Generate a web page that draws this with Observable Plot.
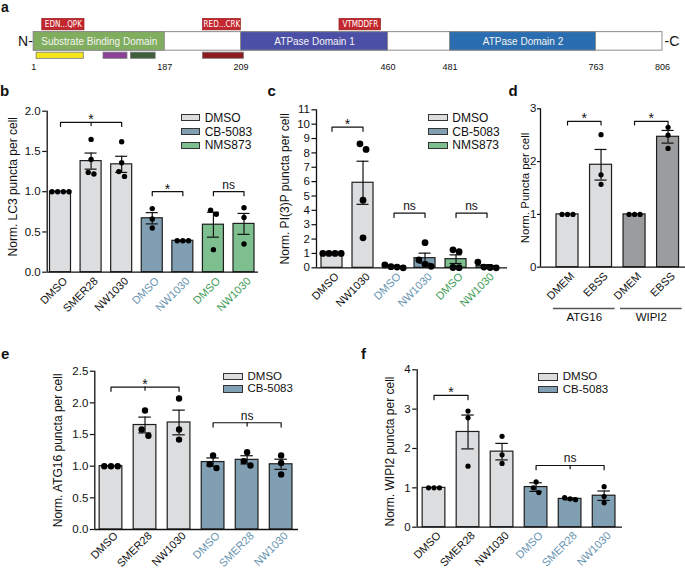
<!DOCTYPE html>
<html><head><meta charset="utf-8">
<script src="https://cdn.jsdelivr.net/npm/d3@7"></script>
<script src="https://cdn.jsdelivr.net/npm/@observablehq/plot@0.6"></script>
<style>
html,body{margin:0;padding:0;background:#fff;}
#fig{position:relative;width:685px;height:570px;overflow:hidden;background:#fff;font-family:"Liberation Sans",Arial,Helvetica,sans-serif;color:#111;}
.letter{position:absolute;font-weight:bold;font-size:15px;line-height:11px;}
.legtxt{position:absolute;font-size:12px;line-height:12px;white-space:nowrap;}
</style></head>
<body><div id="fig"></div>
<script>
// ---------------- DATA ----------------
// Panel a: protein schematic (residue numbers)
const residueTicks = [1, 187, 209, 460, 481, 763, 806];
const domainNames = ["Substrate Binding Domain", "ATPase Domain 1", "ATPase Domain 2"];
const domainStart = [1, 209, 481];
const domainEnd = [187, 460, 763];
const motifLabels = ["EDN...QPK", "RED...CRK", "VTMDDFR"];
const motifStart = [13, 198, 377];
const motifEnd = [73, 209, 448];
const featureStart = [5, 100, 139, 198];
const featureEnd = [72, 134, 174, 214];

// Panel b: LC3
const bCats = ["DMSO", "SMER28", "NW1030", "DMSO", "NW1030", "DMSO", "NW1030"];
const bGroups = ["DMSO", "DMSO", "DMSO", "CB-5083", "CB-5083", "NMS873", "NMS873"];
const bMean = [1.0, 1.38, 1.34, 0.67, 0.39, 0.59, 0.60];
const bSem = [0, 0.10, 0.10, 0.07, 0.005, 0.155, 0.13];
const bPoints = [[1, 1, 1, 1], [1.65, 1.40, 1.22, 1.24], [1.62, 1.36, 1.19, 1.25], [0.79, 0.66, 0.55], [0.39, 0.39, 0.39], [0.77, 0.72, 0.28], [0.80, 0.68, 0.35]];
const bBrackets = [{from: 0, to: 2, y: 1.86, label: "*", mid: [1]}, {from: 3, to: 4, y: 1.0, label: "*"}, {from: 5, to: 6, y: 1.0, label: "ns"}];
const bLegend = ["DMSO", "CB-5083", "NMS873"];

// Panel c: PI(3)P
const cCats = ["DMSO", "NW1030", "DMSO", "NW1030", "DMSO", "NW1030"];
const cGroups = ["DMSO", "DMSO", "CB-5083", "CB-5083", "NMS873", "NMS873"];
const cMean = [1.0, 5.92, 0.08, 0.67, 0.60, 0.12];
const cSem = [0, 1.5, 0.05, 0.35, 0.30, 0.10];
const cPoints = [[1, 1, 1, 1], [8.63, 8.24, 4.71, 2.09], [0, 0.05, 0.08, 0.2], [1.75, 0.55, 0.25, 0.1], [1.25, 1.12, 0.02, 0.01], [0, 0.02, 0.05, 0.4]];
const cBrackets = [{from: 0, to: 1, y: 9.8, label: "*"}, {from: 2, to: 3, y: 3.8, label: "ns"}, {from: 4, to: 5, y: 3.8, label: "ns"}];
const cLegend = ["DMSO", "CB-5083", "NMS873"];

// Panel d: starvation
const dCats = ["DMEM", "EBSS", "DMEM", "EBSS"];
const dGroups = ["ATG16", "ATG16", "WIPI2", "WIPI2"];
const dMean = [1.0, 1.94, 1.0, 2.47];
const dSem = [0, 0.29, 0, 0.12];
const dPoints = [[1, 1, 1], [2.51, 1.75, 1.57], [1, 1, 1], [2.65, 2.5, 2.25]];
const dBrackets = [{from: 0, to: 1, y: 2.76, label: "*"}, {from: 2, to: 3, y: 2.76, label: "*"}];
const dGroupNames = ["ATG16", "WIPI2"];
const dGroupFrom = [0, 2];
const dGroupTo = [1, 3];

// Panel e: ATG16
const eCats = ["DMSO", "SMER28", "NW1030", "DMSO", "SMER28", "NW1030"];
const eGroups = ["DMSO", "DMSO", "DMSO", "CB-5083", "CB-5083", "CB-5083"];
const eMean = [1.0, 1.65, 1.69, 1.065, 1.10, 1.03];
const eSem = [0, 0.125, 0.195, 0.065, 0.065, 0.08];
const ePoints = [[1, 1, 1], [1.88, 1.58, 1.48], [2.07, 1.58, 1.42], [1.17, 1.03, 0.97], [1.22, 1.08, 1.01], [1.17, 1.05, 0.87]];
const eBrackets = [{from: 0, to: 2, y: 2.25, label: "*", mid: [1]}, {from: 3, to: 5, y: 1.686, label: "ns", mid: [4]}];
const eLegend = ["DMSO", "CB-5083"];

// Panel f: WIPI2
const fCats = ["DMSO", "SMER28", "NW1030", "DMSO", "SMER28", "NW1030"];
const fGroups = ["DMSO", "DMSO", "DMSO", "CB-5083", "CB-5083", "CB-5083"];
const fMean = [1.0, 2.42, 1.92, 1.02, 0.72, 0.80];
const fSem = [0, 0.43, 0.21, 0.11, 0.025, 0.12];
const fPoints = [[1, 1, 1], [2.95, 2.78, 1.55], [2.31, 1.84, 1.62], [1.15, 1.0, 0.88], [0.75, 0.70, 0.72], [1.03, 0.78, 0.62]];
const fBrackets = [{from: 0, to: 1, y: 3.35, label: "*"}, {from: 3, to: 5, y: 1.568, label: "ns", mid: [4]}];
const fLegend = ["DMSO", "CB-5083"];

// ---------------- STYLE / LAYOUT ----------------
const FONT = '"Liberation Sans", Arial, Helvetica, sans-serif';
const NARROW = '"Liberation Sans Narrow", "Arial Narrow", "DejaVu Sans Condensed", "Liberation Sans", sans-serif';
const fillColor = {"DMSO": "#dcdddf", "CB-5083": "#809fb3", "NMS873": "#7dbf8e", "ATG16": "#dcdddf", "WIPI2": "#9b9c9e"};
const labelColor = {"DMSO": "#111", "CB-5083": "#6793b0", "NMS873": "#3f9c58", "ATG16": "#111", "WIPI2": "#111"};
const domainColor = ["#80ad5e", "#4c4fa6", "#2a6db0"];
const featureColor = ["#f5e71a", "#8b3f96", "#3f5e3a", "#8c1c20"];
// drawn (not-to-scale) length of the schematic at each residue break
const schematicStops = [0, 131, 207.2, 354.3, 416.2, 562.2, 628.7];
const fig = document.getElementById("fig");

function place(el, left, top) {
  el.style.position = "absolute";
  el.style.left = left + "px";
  el.style.top = top + "px";
  el.style.overflow = "visible";
  fig.appendChild(el);
}
function letter(t, x, baseline, fs) {
  const el = document.createElement("div");
  el.className = "letter"; el.textContent = t;
  const size = fs || 15;
  el.style.fontSize = size + "px";
  el.style.left = x + "px"; el.style.top = (baseline - (size * 0.905 - (size * 1.117 - 11) / 2)) + "px";
  fig.appendChild(el);
}
function legend(names, L) {
  names.forEach((nm, k) => {
    const cy = L.y0 + k * L.dy;
    const sw = document.createElement("div");
    sw.style.cssText = `position:absolute;left:${L.x}px;top:${cy - L.h / 2}px;width:${L.w}px;height:${L.h}px;background:${fillColor[nm]};border:1px solid #333;box-sizing:border-box;`;
    fig.appendChild(sw);
    const tx = document.createElement("div");
    tx.className = "legtxt"; tx.textContent = nm;
    tx.style.fontSize = L.fs + "px"; tx.style.lineHeight = L.fs + "px";
    tx.style.left = (L.x + L.w + 4.5) + "px"; tx.style.top = (cy - L.fs * 0.49) + "px";
    fig.appendChild(tx);
  });
}

// ---------------- PANEL A ----------------
(function () {
  const toU = d3.scaleLinear().domain(residueTicks).range(schematicStops);
  const track = {motif: [0, 1], domain: [1.15, 2.75], feature: [2.92, 3.45], label: 4.2};
  const mid = (track.domain[0] + track.domain[1]) / 2;
  const domains = domainNames.map((name, k) => ({name, k, start: domainStart[k], end: domainEnd[k]}));
  const motifs = motifLabels.map((label, k) => ({label, start: motifStart[k], end: motifEnd[k]}));
  const features = featureStart.map((s, k) => ({k, start: s, end: featureEnd[k]}));
  const whole = [{start: residueTicks[0], end: residueTicks[residueTicks.length - 1]}];
  const svg = Plot.plot({
    width: 685, height: 75, margin: 0,
    style: {fontFamily: FONT, fontSize: "10px", color: "#111", overflow: "visible", background: "transparent"},
    x: {type: "linear", domain: [schematicStops[0], schematicStops[schematicStops.length - 1]], range: [33.3, 662], axis: null},
    y: {domain: [0, 3.45], range: [18.3, 58.3], axis: null},
    color: {type: "identity"},
    marks: [
      Plot.rect(whole, {x1: d => toU(d.start), x2: d => toU(d.end), y1: track.domain[0], y2: track.domain[1], fill: "white", stroke: "#8c8c8c", strokeWidth: 1}),
      Plot.rect(domains, {x1: d => toU(d.start), x2: d => toU(d.end), y1: track.domain[0], y2: track.domain[1], fill: d => domainColor[d.k], stroke: "#8c8c8c", strokeWidth: 1}),
      Plot.text(domains, {x: d => toU((d.start + d.end) / 2), y: mid, text: "name", fill: "#f4f4f4", fontSize: 10}),
      Plot.rect(motifs, {x1: d => toU(d.start), x2: d => toU(d.end), y1: track.motif[0], y2: track.motif[1], fill: "#c4262d", stroke: "#8a1a1a", strokeWidth: 0.6}),
      Plot.text(motifs, {x: d => (toU(d.start) + toU(d.end)) / 2, y: (track.motif[0] + track.motif[1]) / 2, text: "label", fill: "white", fontSize: 8, fontFamily: NARROW}),
      Plot.rect(features, {x1: d => toU(d.start), x2: d => toU(d.end), y1: track.feature[0], y2: track.feature[1], fill: d => featureColor[d.k], stroke: "#777", strokeWidth: 0.8}),
      Plot.text(residueTicks, {x: d => toU(d), y: track.label, text: d => String(d), fontSize: 9}),
      Plot.text(["N-"], {x: toU(residueTicks[0]), y: mid, text: d => d, textAnchor: "end", dx: -1, fontSize: 14}),
      Plot.text(["-C"], {x: toU(residueTicks[residueTicks.length - 1]), y: mid, text: d => d, textAnchor: "start", dx: 2, fontSize: 14})
    ]
  });
  place(svg, 0, 0);
})();

// ---------------- BAR PANELS ----------------
function barPanel(d, L) {
  const n = d.cats.length;
  const rows = d.cats.map((c, i) => ({i, cat: c, group: d.groups[i], mean: d.mean[i], sem: d.sem[i]}));
  const err = rows.filter(r => r.sem > 0);
  const xDom = [L.x0, n - 1 + L.x1];
  const frameW = L.width - L.ml - L.mr, frameH = L.height - L.mt - L.mb;
  const pxX = frameW / (xDom[1] - xDom[0]);
  const pxY = frameH / (d.yDomain[1] - d.yDomain[0]);
  const hw = L.barPx / 2 / pxX, cap = L.capPx / 2 / pxX, drop = L.dropPx / pxY;
  const pts = [];
  d.points.forEach((arr, i) => {
    const s = [...arr].sort((a, b) => b - a);
    const cl = [[s[0]]];
    for (let k = 1; k < s.length; k++) {
      const last = cl[cl.length - 1];
      if ((last[last.length - 1] - s[k]) * pxY < L.r * 2) last.push(s[k]); else cl.push([s[k]]);
    }
    cl.forEach(c => c.forEach((v, j) => pts.push({i, v, off: (j - (c.length - 1) / 2) * L.r * L.spread / pxX})));
  });
  const br = d.brackets;
  const brLines = br.flatMap((b, k) => [{k, x: b.from, y: b.y - drop}, {k, x: b.from, y: b.y}, {k, x: b.to, y: b.y}, {k, x: b.to, y: b.y - drop}]);
  const mids = br.flatMap(b => (b.mid || []).map(m => ({x: m, y: b.y})));
  const marks = [
    Plot.rect(rows, {x1: r => r.i - hw, x2: r => r.i + hw, y1: d.yDomain[0], y2: "mean", fill: r => fillColor[r.group], stroke: "#1e1e1e", strokeWidth: 1.2}),
    Plot.ruleX(err, {x: "i", y1: r => r.mean - r.sem, y2: r => r.mean + r.sem, stroke: "#111", strokeWidth: 1.2}),
    Plot.ruleY(err, {y: r => r.mean + r.sem, x1: r => r.i - cap, x2: r => r.i + cap, stroke: "#111", strokeWidth: 1.2}),
    Plot.ruleY(err, {y: r => r.mean - r.sem, x1: r => r.i - cap, x2: r => r.i + cap, stroke: "#111", strokeWidth: 1.2}),
    Plot.dot(pts, {x: p => p.i + p.off, y: "v", r: L.r, fill: "#000", stroke: "none"}),
    Plot.ruleX([xDom[0]], {stroke: "#111", strokeWidth: 1.3}),
    Plot.ruleY([d.yDomain[0]], {stroke: "#111", strokeWidth: 1.3}),
    Plot.axisY({ticks: d.yTicks, tickFormat: d.tickFormat, tickSize: L.tickSize || 4.5, tickPadding: L.tickPad ?? 2, fontSize: 11.5, strokeWidth: 1.2, label: null}),
    Plot.text(rows, {x: "i", frameAnchor: "bottom", text: "cat", rotate: -45, textAnchor: "end", lineAnchor: "top", dx: 2, dy: L.lblDy ?? 4, fill: r => labelColor[r.group], fontSize: 11}),
    Plot.line(brLines, {x: "x", y: "y", z: "k", stroke: "#111", strokeWidth: 1.2}),
    Plot.ruleX(mids, {x: "x", y1: "y", y2: m => m.y - drop, stroke: "#111", strokeWidth: 1.2}),
    Plot.text(br.filter(b => b.label === "*"), {x: b => (b.from + b.to) / 2, y: "y", text: "label", fontSize: 14, lineAnchor: "middle", dy: -2.5}),
    Plot.text(br.filter(b => b.label !== "*"), {x: b => (b.from + b.to) / 2, y: "y", text: "label", fontSize: 12, lineAnchor: "middle", dy: -7}),
    Plot.text([d.yLabel], {frameAnchor: "left", text: t => t, rotate: -90, textAnchor: "middle", lineAnchor: "middle", dx: L.ylabDx, dy: L.ylabDy || 0, fontSize: L.ylabFs || 12})
  ];
  if (d.groupNames) {
    const gr = d.groupNames.map((g, k) => ({g, a: d.groupFrom[k], b: d.groupTo[k]}));
    marks.push(Plot.ruleY(gr, {y: d.yDomain[0], x1: g => g.a - 0.42, x2: g => g.b + 0.42, dy: 41.3, stroke: "#555", strokeWidth: 1.3}));
    marks.push(Plot.text(gr, {x: g => (g.a + g.b) / 2, frameAnchor: "bottom", text: "g", lineAnchor: "middle", dy: 50.5, fontSize: 11.5}));
  }
  const svg = Plot.plot({
    width: L.width, height: L.height,
    marginLeft: L.ml, marginRight: L.mr, marginTop: L.mt, marginBottom: L.mb,
    style: {fontFamily: FONT, fontSize: "11.5px", color: "#111", overflow: "visible", background: "transparent"},
    x: {domain: xDom, axis: null},
    y: {domain: d.yDomain, axis: null},
    color: {type: "identity"},
    marks
  });
  place(svg, L.left, L.top);
}

const f1 = d3.format(".1f");
barPanel({cats: bCats, groups: bGroups, mean: bMean, sem: bSem, points: bPoints, brackets: bBrackets,
  yDomain: [0, 2], yTicks: [0, 0.5, 1, 1.5, 2], tickFormat: f1, yLabel: "Norm. LC3 puncta per cell"},
  {left: 0, top: 80, width: 262, height: 240, ml: 46.7, mr: 4, mt: 30.7, mb: 48.3, x0: -0.435, x1: 0.474,
   barPx: 21, capPx: 12, dropPx: 4, r: 2.7, spread: 2.1, ylabDx: -34, ylabDy: -5});

barPanel({cats: cCats, groups: cGroups, mean: cMean, sem: cSem, points: cPoints, brackets: cBrackets,
  yDomain: [0, 11], yTicks: d3.range(0, 12), tickFormat: d3.format("d"), yLabel: "Norm. PI(3)P puncta per cell"},
  {left: 262, top: 80, width: 245, height: 240, ml: 54, mr: 0, mt: 29.3, mb: 52.7, x0: -0.5, x1: 0.66,
   barPx: 21, capPx: 12, dropPx: 4.3, r: 3.4, spread: 1.8, ylabDx: -31.5});

barPanel({cats: dCats, groups: dGroups, mean: dMean, sem: dSem, points: dPoints, brackets: dBrackets,
  yDomain: [0, 3], yTicks: [0, 1, 2, 3], tickFormat: d3.format("d"), yLabel: "Norm. Puncta per cell",
  groupNames: dGroupNames, groupFrom: dGroupFrom, groupTo: dGroupTo},
  {left: 505, top: 80, width: 180, height: 250, ml: 35, mr: 0, mt: 28.3, mb: 63.3, x0: -0.806, x1: 0.52,
   barPx: 22, capPx: 12, dropPx: 3.5, r: 2.6, spread: 2.1, ylabDx: -15, ylabFs: 11.5, tickSize: 3, tickPad: 1});

barPanel({cats: eCats, groups: eGroups, mean: eMean, sem: eSem, points: ePoints, brackets: eBrackets,
  yDomain: [0, 2.5], yTicks: [0, 0.5, 1, 1.5, 2, 2.5], tickFormat: f1, yLabel: "Norm. ATG16 puncta per cell"},
  {left: 0, top: 340, width: 300, height: 230, ml: 94.3, mr: 2, mt: 30.7, mb: 41, x0: -0.476, x1: 0.51,
   barPx: 22.7, capPx: 12.5, dropPx: 4.3, r: 3.2, spread: 2.1, ylabDx: -36.3, lblDy: 1.5});

barPanel({cats: fCats, groups: fGroups, mean: fMean, sem: fSem, points: fPoints, brackets: fBrackets,
  yDomain: [0, 4], yTicks: [0, 1, 2, 3, 4], tickFormat: d3.format("d"), yLabel: "Norm. WIPI2 puncta per cell"},
  {left: 320, top: 340, width: 310, height: 230, ml: 96.7, mr: 8, mt: 29.3, mb: 43.3, x0: -0.494, x1: 0.54,
   barPx: 22.7, capPx: 12.5, dropPx: 4.3, r: 2.6, spread: 2.1, ylabDx: -26.7, ylabDy: 3, lblDy: 3.5});

// legends
legend(bLegend, {x: 180.7, y0: 117.5, dy: 13.9, w: 19.5, h: 7.6, fs: 12});
legend(cLegend, {x: 428.3, y0: 117.5, dy: 13.9, w: 19.5, h: 7.6, fs: 12});
legend(eLegend, {x: 223, y0: 376.3, dy: 12.8, w: 20, h: 7.4, fs: 11.5});
legend(fLegend, {x: 538.3, y0: 377, dy: 12.8, w: 20, h: 7.4, fs: 11.5});

// panel letters
letter("a", 1, 12.8, 14);
letter("b", 0, 96);
letter("c", 267.5, 96);
letter("d", 508.5, 96);
letter("e", 1, 358.5);
letter("f", 361, 359);
</script></body></html>
